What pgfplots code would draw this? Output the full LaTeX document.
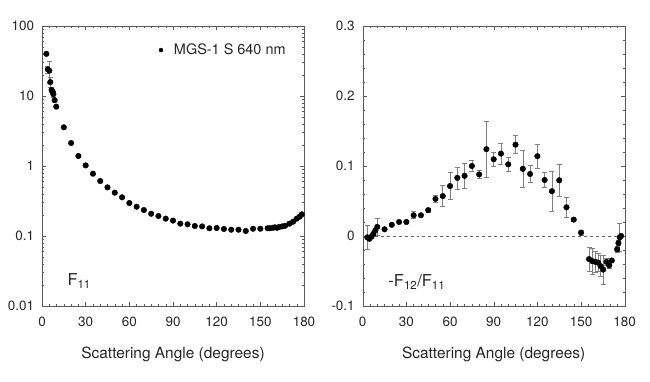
\documentclass[border=0pt]{standalone}
\usepackage{fontspec}
\setmainfont{TeX Gyre Heros}
\usepackage{pgfplots}
\pgfplotsset{compat=1.18}
\usepackage{pgfplotstable}

\pgfplotstableread{
x y ey
3 40 0
4 24 3
5 23 8
5.7 15.8 2.5
6.6 12.2 1
7.3 11.5 0
7.8 10.6 1
8.7 8.7 0
9.8 7.05 0
15 3.57 0
20 2.13 0
25 1.39 0
30 1.02 0
35 0.776 0
40 0.61 0
45 0.495 0
50 0.416 0
55 0.357 0
60 0.296 0
65 0.262 0
70 0.235 0
75 0.208 0
80 0.193 0
85 0.177 0
90 0.166 0
95 0.150 0
100 0.147 0
105 0.139 0
110 0.137 0
115 0.129 0
120 0.130 0
125 0.126 0
130 0.123 0
135 0.123 0
140 0.118 0
145 0.127 0
150 0.127 0
155 0.129 0
156.5 0.129 0
158.5 0.131 0
160 0.133 0
161.5 0.131 0
163 0.135 0
165 0.137 0
167 0.140 0
170 0.150 0
172.5 0.160 0
175 0.177 0
177 0.189 0
178.5 0.204 0
}\Fone

\pgfplotstableread{
x y ey
3.2 -0.002 0.017
4.6 -0.004 0
6 -0.001 0
7.3 0.003 0
8.7 0.008 0
10 0.013 0.012
15 0.0096 0
20 0.016 0
25 0.020 0
30 0.020 0
35 0.0296 0.005
40 0.0296 0
45 0.037 0.003
50 0.053 0.005
55 0.057 0.015
60 0.0714 0.019
65 0.083 0.0156
70 0.086 0.018
75 0.100 0.0075
80 0.088 0.006
85 0.124 0.040
90 0.1096 0.010
95 0.1177 0.015
100 0.1024 0.010
105 0.1305 0.013
110 0.096 0.026
115 0.0886 0.0125
120 0.114 0.017
125 0.080 0.011
130 0.064 0.029
135 0.0796 0.0235
140 0.041 0.014
145 0.0234 0.002
150 0.0048 0.004
155.5 -0.033 0.0175
157.8 -0.036 0.019
159.9 -0.037 0.015
161.7 -0.038 0.013
163.4 -0.043 0.015
165.2 -0.048 0.021
167.5 -0.037 0.005
169.3 -0.042 0.004
171.1 -0.035 0.003
174.8 -0.019 0.004
175.7 -0.010 0.004
176.6 -0.002 0.02
177.5 0.0 0
}\Ftwo

\pgfplotsset{
  myax/.style={
    width=262bp, height=280bp, scale only axis,
    xmin=0, xmax=180,
    xtick={0,30,...,180},
    minor x tick num=5,
    tick align=inside,
    major tick length=4bp,
    minor tick length=2bp,
    axis line style={black!65},
    every tick/.style={black!65},
    tick label style={font=\fontsize{13.5}{15}\selectfont, text=black!85},
    xticklabel style={yshift=-7bp},
    yticklabel style={xshift=-4.5bp},
    /pgf/number format/assume math mode=true,
    xlabel={Scattering Angle (degrees)},
    xlabel style={at={(axis description cs:0.5,0)}, anchor=center, yshift=-48bp,
      font=\fontsize{15.5}{18}\selectfont, text=black!85},
    clip=false,
  },
  mymark/.style={only marks, mark=*, mark size=2.8bp, black,
    error bars/y dir=both, error bars/y explicit,
    error bars/error bar style={black!50, line width=0.6bp},
    error bars/error mark options={rotate=90, mark size=2.5bp, black!50, line width=0.6bp}},
}

\begin{document}
\begin{tikzpicture}
\path[use as bounding box] (0,0) rectangle (650bp,382bp);
\begin{axis}[myax, at={(42bp,76bp)}, anchor=south west,
  ymode=log, ymin=0.01, ymax=100,
  ytick={0.01,0.1,1,10,100},
  yticklabels={0.01,0.1,1,10,100},
  legend style={draw=none, fill=none, inner sep=0pt, at={(0.445,0.914)}, anchor=west,
    nodes={font=\fontsize{14.5}{16}\selectfont, text=black!85}},
  legend cell align=left,
]
\addplot[forget plot, mymark] table[x=x, y=y, y error=ey] {\Fone};
\addlegendimage{legend image code/.code={\fill[black] (0bp,0bp) circle (2bp); \path[draw=none] (-2bp,0bp) -- (11bp,0bp);}}
\addlegendentry{MGS-1 S 640 nm}
\node[anchor=base west, font=\fontsize{16.5}{18}\selectfont, text=black!85] at (axis description cs:0.084,0.0725) {F\textsubscript{11}};
\end{axis}
\begin{axis}[myax, at={(362.7bp,76bp)}, anchor=south west,
  ymin=-0.1, ymax=0.3,
  ytick={-0.1,0,0.1,0.2,0.3},
  yticklabels={-0.1,0,0.1,0.2,0.3},
  minor y tick num=4,
]
\addplot[black!60, dashed, line width=0.6bp, forget plot] coordinates {(0,0) (180,0)};
\addplot[forget plot, mymark] table[x=x, y=y, y error=ey] {\Ftwo};
\node[anchor=base west, font=\fontsize{16.5}{18}\selectfont, text=black!85] at (axis description cs:0.085,0.069) {-F\textsubscript{12}/F\textsubscript{11}};
\end{axis}
\end{tikzpicture}
\end{document}
